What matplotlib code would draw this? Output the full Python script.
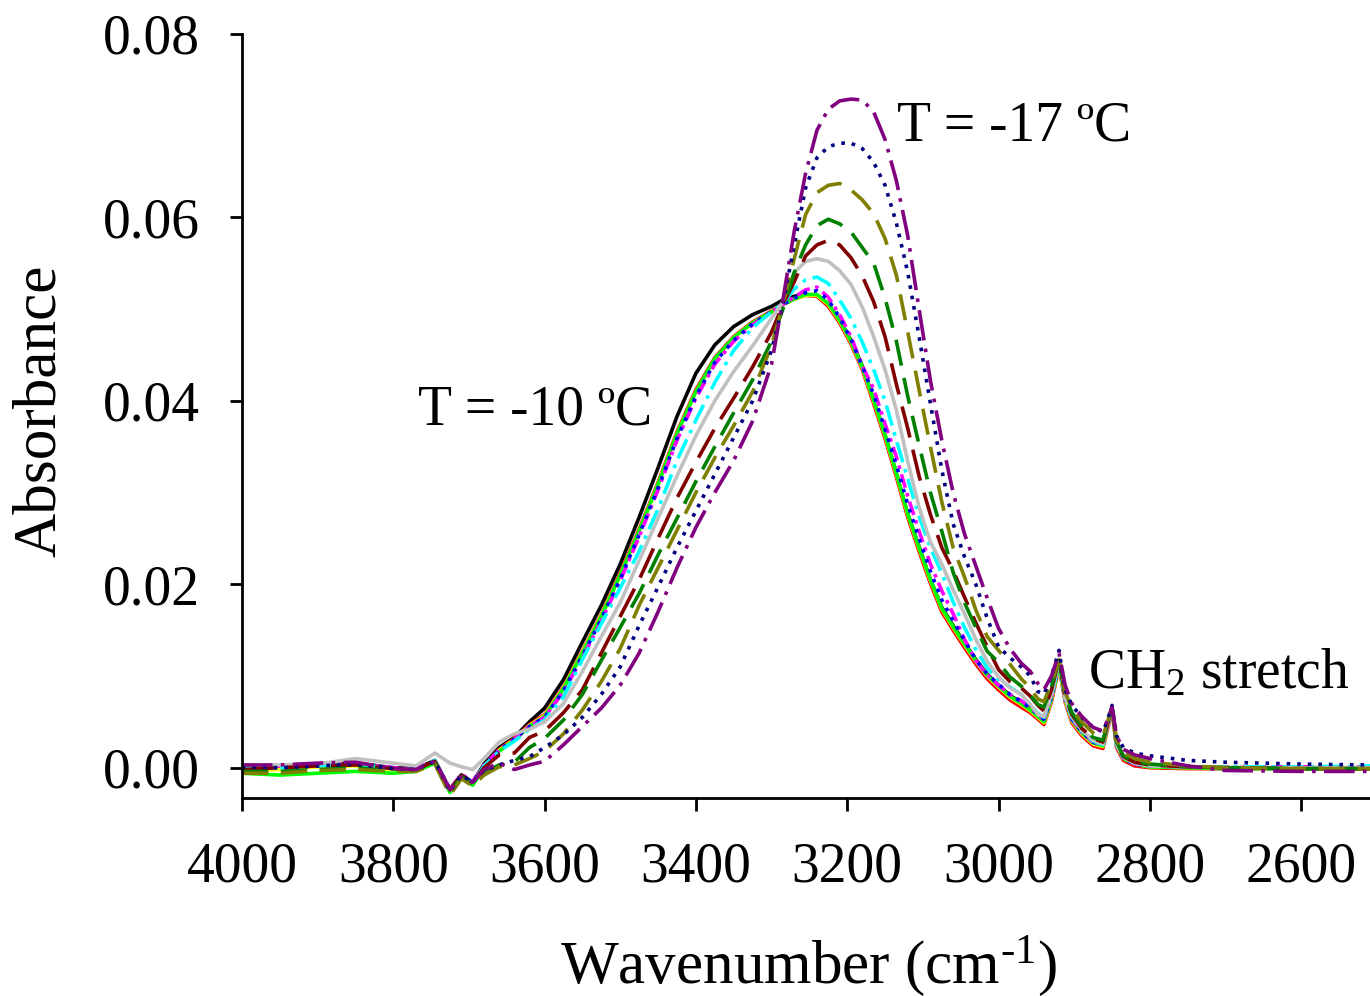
import matplotlib
matplotlib.use("Agg")
import matplotlib.pyplot as plt
from matplotlib.ticker import FixedLocator, FormatStrFormatter

plt.rcParams['font.family'] = ['Liberation Serif', 'DejaVu Serif']
plt.rcParams['mathtext.fontset'] = 'custom'
plt.rcParams['mathtext.rm'] = 'Liberation Serif'
plt.rcParams['mathtext.default'] = 'regular'
plt.rcParams['lines.scale_dashes'] = False

# ---------------- data ----------------
wavenumber = [4000, 3950, 3900, 3850, 3800, 3770, 3745, 3725, 3710, 3695,
              3680, 3660, 3640, 3620, 3600, 3575, 3550, 3525, 3500, 3475,
              3450, 3425, 3400, 3375, 3350, 3325, 3300, 3285, 3270, 3255,
              3240, 3225, 3210, 3195, 3180, 3165, 3150, 3135, 3120, 3105,
              3090, 3075, 3060, 3045, 3030, 3015, 3000, 2985, 2970, 2958,
              2948, 2940, 2930, 2920, 2912, 2903, 2890, 2875, 2862, 2856,
              2850, 2844, 2835, 2820, 2800, 2750, 2700, 2600, 2509]

s_black = [0.0000, 0.0001, 0.0003, 0.0005, 0.0000,
           -0.0001, 0.0008, -0.0024, -0.0008, -0.0016,
           0.0004, 0.0022, 0.0033, 0.0050, 0.0065,
           0.0096, 0.0137, 0.0177, 0.0222, 0.0273,
           0.0327, 0.0383, 0.0430, 0.0461, 0.0481,
           0.0494, 0.0503, 0.0510, 0.0514, 0.0516,
           0.0515, 0.0506, 0.0488, 0.0466, 0.0438,
           0.0401, 0.0363, 0.0321, 0.0277, 0.0241,
           0.0205, 0.0175, 0.0155, 0.0136, 0.0118,
           0.0102, 0.0090, 0.0079, 0.0071, 0.0065,
           0.0058, 0.0052, 0.0077, 0.0113, 0.0076,
           0.0053, 0.0039, 0.0028, 0.0025, 0.0046,
           0.0066, 0.0026, 0.0011, 0.0005, 0.0002,
           0.0001, 0.0000, 0.0000, 0.0000]

s_red = [-0.0002, -0.0001, 0.0002, 0.0003, -0.0001,
         -0.0002, 0.0007, -0.0025, -0.0009, -0.0017,
         0.0002, 0.0020, 0.0032, 0.0047, 0.0058,
         0.0088, 0.0127, 0.0167, 0.0212, 0.0260,
         0.0311, 0.0366, 0.0412, 0.0447, 0.0470,
         0.0486, 0.0498, 0.0505, 0.0511, 0.0515,
         0.0514, 0.0503, 0.0485, 0.0462, 0.0434,
         0.0397, 0.0359, 0.0317, 0.0273, 0.0236,
         0.0201, 0.0170, 0.0150, 0.0131, 0.0113,
         0.0097, 0.0085, 0.0074, 0.0066, 0.0060,
         0.0053, 0.0047, 0.0072, 0.0110, 0.0072,
         0.0049, 0.0035, 0.0024, 0.0021, 0.0042,
         0.0063, 0.0022, 0.0008, 0.0002, 0.0000,
         -0.0001, -0.0001, -0.0001, -0.0001]

s_yellow = [-0.0003, -0.0002, 0.0001, 0.0002, -0.0002,
            -0.0003, 0.0006, -0.0026, -0.0010, -0.0018,
            0.0001, 0.0019, 0.0031, 0.0046, 0.0057,
            0.0087, 0.0126, 0.0166, 0.0210, 0.0258,
            0.0309, 0.0364, 0.0410, 0.0445, 0.0469,
            0.0485, 0.0497, 0.0505, 0.0511, 0.0515,
            0.0515, 0.0505, 0.0487, 0.0464, 0.0436,
            0.0400, 0.0362, 0.0320, 0.0276, 0.0239,
            0.0204, 0.0173, 0.0153, 0.0134, 0.0116,
            0.0100, 0.0088, 0.0077, 0.0069, 0.0062,
            0.0055, 0.0049, 0.0074, 0.0111, 0.0074,
            0.0051, 0.0037, 0.0026, 0.0023, 0.0044,
            0.0064, 0.0024, 0.0010, 0.0004, 0.0001,
            0.0000, 0.0000, 0.0000, 0.0000]

s_lime = [-0.0006, -0.0008, -0.0006, -0.0004, -0.0006,
          -0.0004, 0.0005, -0.0027, -0.0011, -0.0019,
          0.0000, 0.0018, 0.0030, 0.0045, 0.0056,
          0.0086, 0.0125, 0.0165, 0.0210, 0.0258,
          0.0309, 0.0364, 0.0410, 0.0446, 0.0469,
          0.0485, 0.0497, 0.0505, 0.0511, 0.0516,
          0.0516, 0.0506, 0.0488, 0.0465, 0.0437,
          0.0401, 0.0363, 0.0321, 0.0277, 0.0240,
          0.0205, 0.0174, 0.0154, 0.0135, 0.0117,
          0.0101, 0.0089, 0.0078, 0.0070, 0.0063,
          0.0056, 0.0050, 0.0075, 0.0112, 0.0075,
          0.0052, 0.0038, 0.0027, 0.0024, 0.0045,
          0.0065, 0.0025, 0.0010, 0.0004, 0.0001,
          0.0000, -0.0001, -0.0001, -0.0001]

s_magenta = [0.0002, 0.0002, 0.0004, 0.0005, 0.0000,
             -0.0001, 0.0008, -0.0023, -0.0007, -0.0015,
             0.0003, 0.0019, 0.0031, 0.0045, 0.0055,
             0.0083, 0.0120, 0.0160, 0.0204, 0.0252,
             0.0303, 0.0357, 0.0403, 0.0440, 0.0465,
             0.0483, 0.0497, 0.0505, 0.0513, 0.0521,
             0.0524, 0.0513, 0.0494, 0.0470, 0.0438,
             0.0413, 0.0375, 0.0339, 0.0296, 0.0258,
             0.0222, 0.0193, 0.0168, 0.0140, 0.0117,
             0.0101, 0.0090, 0.0080, 0.0073, 0.0066,
             0.0058, 0.0053, 0.0077, 0.0113, 0.0075,
             0.0053, 0.0039, 0.0028, 0.0025, 0.0045,
             0.0065, 0.0025, 0.0010, 0.0004, 0.0002,
             0.0001, 0.0001, 0.0001, 0.0001]

s_blue = [0.0000, 0.0000, 0.0002, 0.0004, -0.0001,
          -0.0002, 0.0007, -0.0024, -0.0008, -0.0016,
          0.0002, 0.0019, 0.0031, 0.0045, 0.0055,
          0.0084, 0.0122, 0.0162, 0.0206, 0.0254,
          0.0305, 0.0359, 0.0405, 0.0442, 0.0466,
          0.0484, 0.0497, 0.0505, 0.0512, 0.0518,
          0.0520, 0.0510, 0.0491, 0.0467, 0.0437,
          0.0407, 0.0369, 0.0330, 0.0287, 0.0250,
          0.0214, 0.0183, 0.0160, 0.0139, 0.0118,
          0.0102, 0.0091, 0.0080, 0.0072, 0.0065,
          0.0058, 0.0053, 0.0076, 0.0113, 0.0075,
          0.0053, 0.0039, 0.0028, 0.0025, 0.0045,
          0.0065, 0.0025, 0.0010, 0.0004, 0.0002,
          0.0001, 0.0000, 0.0000, 0.0000]

s_cyan = [-0.0001, 0.0000, 0.0002, 0.0004, -0.0001,
          -0.0002, 0.0008, -0.0024, -0.0008, -0.0016,
          0.0002, 0.0018, 0.0029, 0.0042, 0.0052,
          0.0077, 0.0118, 0.0157, 0.0196, 0.0236,
          0.0282, 0.0335, 0.0379, 0.0420, 0.0455,
          0.0480, 0.0497, 0.0506, 0.0522, 0.0532,
          0.0535, 0.0528, 0.0510, 0.0490, 0.0464,
          0.0434, 0.0400, 0.0357, 0.0315, 0.0274,
          0.0240, 0.0212, 0.0181, 0.0153, 0.0129,
          0.0109, 0.0096, 0.0088, 0.0080, 0.0069,
          0.0059, 0.0055, 0.0078, 0.0115, 0.0075,
          0.0055, 0.0040, 0.0029, 0.0025, 0.0045,
          0.0066, 0.0025, 0.0010, 0.0005, 0.0002,
          0.0001, 0.0001, 0.0001, 0.0002]

s_gray = [0.0003, 0.0003, 0.0004, 0.0010, 0.0005,
          0.0002, 0.0016, 0.0005, 0.0001, -0.0002,
          0.0010, 0.0028, 0.0037, 0.0042, 0.0050,
          0.0070, 0.0105, 0.0143, 0.0180, 0.0226,
          0.0272, 0.0318, 0.0362, 0.0400, 0.0432,
          0.0460, 0.0490, 0.0508, 0.0540, 0.0552,
          0.0555, 0.0552, 0.0542, 0.0527, 0.0502,
          0.0470, 0.0434, 0.0390, 0.0334, 0.0284,
          0.0246, 0.0222, 0.0194, 0.0168, 0.0140,
          0.0116, 0.0099, 0.0087, 0.0080, 0.0069,
          0.0058, 0.0056, 0.0080, 0.0116, 0.0076,
          0.0056, 0.0041, 0.0030, 0.0026, 0.0046,
          0.0066, 0.0026, 0.0011, 0.0005, 0.0002,
          0.0001, 0.0000, 0.0000, 0.0000]

s_darkred = [-0.0002, 0.0000, 0.0002, 0.0003, -0.0001,
             -0.0002, 0.0007, -0.0024, -0.0008, -0.0016,
             0.0000, 0.0014, 0.0016, 0.0033, 0.0040,
             0.0060, 0.0085, 0.0125, 0.0165, 0.0205,
             0.0250, 0.0294, 0.0333, 0.0370, 0.0403,
             0.0437, 0.0475, 0.0505, 0.0530, 0.0558,
             0.0570, 0.0575, 0.0570, 0.0556, 0.0536,
             0.0508, 0.0470, 0.0418, 0.0370, 0.0318,
             0.0276, 0.0240, 0.0215, 0.0186, 0.0158,
             0.0132, 0.0107, 0.0094, 0.0087, 0.0078,
             0.0068, 0.0062, 0.0085, 0.0118, 0.0078,
             0.0058, 0.0043, 0.0032, 0.0028, 0.0047,
             0.0066, 0.0027, 0.0012, 0.0006, 0.0003,
             0.0001, 0.0000, -0.0001, -0.0001]

s_green = [-0.0004, -0.0004, -0.0002, 0.0000, -0.0003,
           -0.0003, 0.0005, -0.0027, -0.0010, -0.0018,
           -0.0005, 0.0003, 0.0006, 0.0022, 0.0032,
           0.0052, 0.0080, 0.0117, 0.0153, 0.0190,
           0.0232, 0.0272, 0.0312, 0.0350, 0.0387,
           0.0423, 0.0465, 0.0500, 0.0540, 0.0570,
           0.0591, 0.0598, 0.0593, 0.0584, 0.0567,
           0.0550, 0.0512, 0.0465, 0.0405, 0.0352,
           0.0300, 0.0258, 0.0213, 0.0180, 0.0153,
           0.0127, 0.0115, 0.0099, 0.0089, 0.0079,
           0.0069, 0.0066, 0.0088, 0.0120, 0.0080,
           0.0060, 0.0045, 0.0033, 0.0030, 0.0048,
           0.0066, 0.0028, 0.0013, 0.0007, 0.0004,
           0.0001, 0.0000, -0.0001, -0.0001]

s_olive = [-0.0006, -0.0006, -0.0003, -0.0002, -0.0004,
           -0.0004, 0.0004, -0.0030, -0.0012, -0.0020,
           -0.0008, 0.0001, 0.0003, 0.0010, 0.0018,
           0.0037, 0.0063, 0.0094, 0.0130, 0.0177,
           0.0218, 0.0259, 0.0300, 0.0338, 0.0373,
           0.0410, 0.0460, 0.0505, 0.0555, 0.0603,
           0.0627, 0.0635, 0.0637, 0.0630, 0.0619,
           0.0604, 0.0577, 0.0537, 0.0475, 0.0412,
           0.0350, 0.0290, 0.0240, 0.0208, 0.0172,
           0.0143, 0.0128, 0.0113, 0.0097, 0.0087,
           0.0075, 0.0072, 0.0092, 0.0118, 0.0083,
           0.0064, 0.0050, 0.0038, 0.0034, 0.0050,
           0.0066, 0.0030, 0.0016, 0.0010, 0.0006,
           0.0002, 0.0000, -0.0001, -0.0001]

s_navy = [0.0001, 0.0000, 0.0002, 0.0004, -0.0001,
          -0.0002, 0.0007, -0.0026, -0.0008, -0.0016,
          -0.0003, 0.0003, 0.0008, 0.0012, 0.0022,
          0.0036, 0.0055, 0.0080, 0.0110, 0.0155,
          0.0197, 0.0240, 0.0280, 0.0320, 0.0360,
          0.0400, 0.0455, 0.0505, 0.0570, 0.0632,
          0.0665, 0.0677, 0.0681, 0.0681, 0.0675,
          0.0660, 0.0635, 0.0594, 0.0540, 0.0470,
          0.0397, 0.0325, 0.0266, 0.0230, 0.0200,
          0.0163, 0.0132, 0.0120, 0.0110, 0.0100,
          0.0083, 0.0080, 0.0100, 0.0128, 0.0085,
          0.0068, 0.0055, 0.0044, 0.0039, 0.0052,
          0.0068, 0.0035, 0.0022, 0.0016, 0.0013,
          0.0008, 0.0006, 0.0004, 0.0003]

s_purple = [0.0003, 0.0003, 0.0005, 0.0006, -0.0001,
            -0.0002, 0.0007, -0.0024, -0.0010, -0.0016,
            -0.0002, 0.0005, -0.0002, 0.0003, 0.0007,
            0.0025, 0.0045, 0.0065, 0.0090, 0.0125,
            0.0170, 0.0218, 0.0262, 0.0300, 0.0335,
            0.0378, 0.0440, 0.0510, 0.0585, 0.0648,
            0.0695, 0.0718, 0.0727, 0.0729, 0.0728,
            0.0715, 0.0685, 0.0640, 0.0580, 0.0500,
            0.0422, 0.0357, 0.0300, 0.0255, 0.0220,
            0.0185, 0.0152, 0.0130, 0.0114, 0.0105,
            0.0092, 0.0085, 0.0100, 0.0125, 0.0090,
            0.0070, 0.0056, 0.0044, 0.0040, 0.0052,
            0.0066, 0.0035, 0.0020, 0.0014, 0.0010,
            0.0002, -0.0003, -0.0004, -0.0004]

x_ticks = [4000, 3800, 3600, 3400, 3200, 3000, 2800, 2600]
y_ticks = [0.00, 0.02, 0.04, 0.06, 0.08]

# ---------------- styles ----------------
series = [
    (s_black,   '#000000', '-'),
    (s_red,     '#FF0000', '-'),
    (s_yellow,  '#FFFF00', '-'),
    (s_lime,    '#00FF00', '-'),
    (s_magenta, '#FF00FF', (0, (10, 4, 2.6, 4))),
    (s_blue,    '#0000FF', (0, (2.6, 5))),
    (s_cyan,    '#00FFFF', (0, (15, 5, 2.6, 5))),
    (s_gray,    '#C0C0C0', '-'),
    (s_darkred, '#800000', (0, (23, 9))),
    (s_green,   '#008000', (0, (19, 9))),
    (s_olive,   '#808000', (0, (19, 9))),
    (s_navy,    '#000080', (0, (2.6, 5))),
    (s_purple,  '#800080', (0, (22, 6, 2.6, 6))),
]

fig = plt.figure(figsize=(13.7, 9.96), dpi=100)
ax = fig.add_axes([0.1766, 0.1988, 0.8234, 0.7671])

for vals, col, ls in series:
    ax.plot(wavenumber, vals, color=col, linestyle=ls, linewidth=2.6,
            solid_joinstyle='round', dash_capstyle='butt')

ax.set_xlim(4000, 2509)
ax.set_ylim(-0.0033, 0.08)
ax.xaxis.set_major_locator(FixedLocator(x_ticks))
ax.yaxis.set_major_locator(FixedLocator(y_ticks))
ax.yaxis.set_major_formatter(FormatStrFormatter('%.2f'))

for side in ('top', 'right'):
    ax.spines[side].set_visible(False)
for side in ('left', 'bottom'):
    ax.spines[side].set_linewidth(2.0)

ax.tick_params(axis='both', direction='out', length=9, width=2.0,
               labelsize=40)
ax.tick_params(axis='x', pad=22)
ax.tick_params(axis='y', pad=21)

fig.text(0.029, 0.588, 'Absorbance', rotation=90, ha='center',
         va='center', fontsize=44)
fig.text(0.59, 0.013, 'Wavenumber (cm$^{\u2010' + '1}$)', ha='center',
         va='baseline', fontsize=44)

ax.text(3134, 0.0684, 'T = -17 \u00baC', fontsize=40, ha='left',
        va='baseline')
ax.text(3767, 0.0374, 'T = -10 \u00baC', fontsize=40, ha='left',
        va='baseline')
ax.text(2882, 0.0087, 'CH$_2$ stretch', fontsize=40, ha='left',
        va='baseline')

fig.savefig('out.png', dpi=100)
